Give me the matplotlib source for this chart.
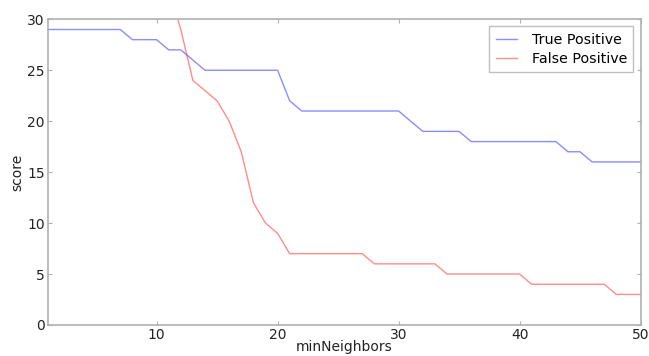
import matplotlib
matplotlib.use("Agg")
import matplotlib.pyplot as plt
import numpy as np

# minNeighbors sweep, 1..50
min_neighbors = list(range(1, 51))

true_positive = [29, 29, 29, 29, 29, 29, 29,
                 28, 28, 28,
                 27, 27,
                 26,
                 25, 25, 25, 25, 25, 25, 25,
                 22,
                 21, 21, 21, 21, 21, 21, 21, 21, 21,
                 20,
                 19, 19, 19, 19,
                 18, 18, 18, 18, 18, 18, 18, 18,
                 17, 17,
                 16, 16, 16, 16, 16]

# first values are off the chart (clipped at 30), estimated
false_positive = [160, 120, 95, 78, 66, 56, 49, 44, 40, 37, 33, 29, 24, 23, 22, 20, 17, 12, 10, 9,
                  7, 7, 7, 7, 7, 7, 7,
                  6, 6, 6, 6, 6, 6,
                  5, 5, 5, 5, 5, 5, 5,
                  4, 4, 4, 4, 4, 4, 4,
                  3, 3, 3]

spine_grey = '#b0b0b0'

fig = plt.figure(figsize=(6.49, 3.56), dpi=100)
ax = fig.add_axes([0.0735, 0.0871, 0.9135, 0.8587])

ax.plot(min_neighbors, true_positive, color='blue', alpha=0.45, lw=1.0, label='True Positive')
ax.plot(min_neighbors, false_positive, color='red', alpha=0.45, lw=1.0, label='False Positive')

ax.set_xlim(1, 50)
ax.set_ylim(0, 30)
ax.set_xticks([10, 20, 30, 40, 50])
ax.set_yticks([0, 5, 10, 15, 20, 25, 30])

for s in ax.spines.values():
  s.set_color(spine_grey)
  s.set_linewidth(1.2)
ax.tick_params(direction='in', top=True, right=True, length=3, color=spine_grey,
               labelsize=10, labelcolor='#222222', pad=2)

ax.set_xlabel('minNeighbors', fontsize=10, color='#222222', labelpad=-1)
ax.set_ylabel('score', fontsize=10, color='#222222', labelpad=2)

leg = ax.legend(loc='upper right', fontsize=10.3, fancybox=False, handlelength=1.5,
                borderaxespad=0.5, handletextpad=1.0, borderpad=0.45, labelspacing=0.35)
leg.get_frame().set_edgecolor(spine_grey)
leg.get_frame().set_linewidth(1.0)

fig.savefig('out.png', dpi=100)
